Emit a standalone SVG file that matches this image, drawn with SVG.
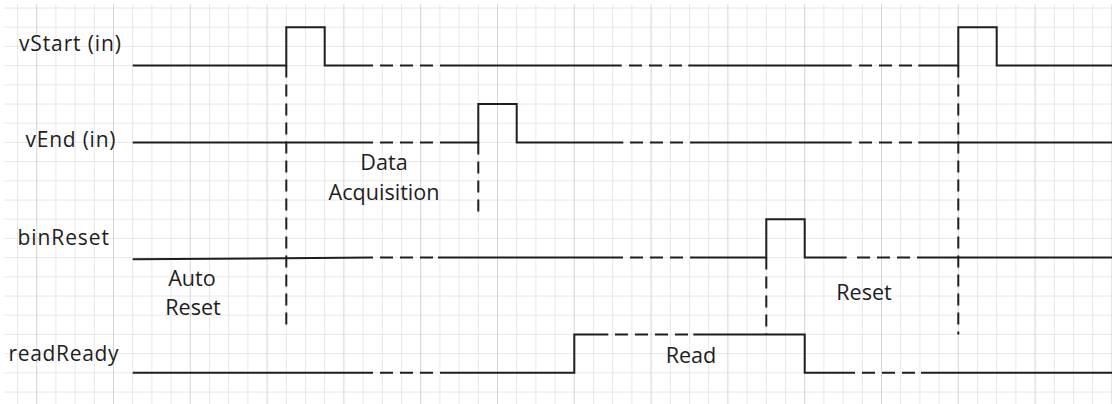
<svg xmlns="http://www.w3.org/2000/svg" width="1112" height="404" viewBox="0 0 1112 404">
<style>
.minor{stroke:#e8e8e8;stroke-width:1;fill:none}
.major{stroke:#d6d6d6;stroke-width:1;fill:none}
.sig{stroke:#1e1e1e;stroke-width:2;fill:none;stroke-linecap:butt;stroke-linejoin:miter}
.dash{stroke:#1e1e1e;stroke-width:2;fill:none;stroke-dasharray:13 7}
.vdash{stroke:#1e1e1e;stroke-width:2;fill:none;stroke-dasharray:12 7}
text{font-family:"Open Sans","Noto Sans","Liberation Sans",sans-serif;font-size:21px;fill:#1e1e1e}
.mid{text-anchor:middle;font-size:21.6px}
</style>
<rect width="1112" height="404" fill="#ffffff"/>
<g id="grid">
<path class="minor" d="M17.5,4V404M55.9,4V404M75.1,4V404M94.3,4V404M132.7,4V404M151.9,4V404M171.1,4V404M209.5,4V404M228.7,4V404M247.9,4V404M286.3,4V404M305.5,4V404M324.7,4V404M363.1,4V404M382.3,4V404M401.5,4V404M439.9,4V404M459.1,4V404M478.3,4V404M516.7,4V404M535.9,4V404M555.1,4V404M593.5,4V404M612.7,4V404M631.9,4V404M670.3,4V404M689.5,4V404M708.7,4V404M747.1,4V404M766.3,4V404M785.5,4V404M823.9,4V404M843.1,4V404M862.3,4V404M900.7,4V404M919.9,4V404M939.1,4V404M977.5,4V404M996.7,4V404M1015.9,4V404M1054.3,4V404M1073.5,4V404M1092.7,4V404"/>
<path class="minor" d="M4,8H1112M4,27.2H1112M4,46.4H1112M4,65.6H1112M4,84.8H1112M4,104H1112M4,123.2H1112M4,142.4H1112M4,161.6H1112M4,180.8H1112M4,200H1112M4,219.2H1112M4,238.4H1112M4,257.6H1112M4,276.8H1112M4,296H1112M4,315.2H1112M4,334.4H1112M4,353.6H1112M4,372.8H1112M4,392H1112"/>
<path class="major" d="M36.7,4V404M113.5,4V404M190.3,4V404M267.1,4V404M343.9,4V404M420.7,4V404M497.5,4V404M574.3,4V404M651.1,4V404M727.9,4V404M804.7,4V404M881.5,4V404M958.3,4V404M1035.1,4V404M1111.9,4V404"/>
</g>
<g id="vStart">
<text x="19" y="51" textLength="102">vStart (in)</text>
<path class="sig" d="M132.7,65.6H286.3V27.2H324.7V65.6H373"/>
<path class="dash" d="M380,65.6H440"/>
<path class="sig" d="M440,65.6H621.7"/>
<path class="dash" d="M629,65.6H688"/>
<path class="sig" d="M688.3,65.6H851.7"/>
<path class="dash" d="M859,65.6H918"/>
<path class="sig" d="M918.3,65.6H958.3V27.2H996.7V65.6H1112"/>
</g>
<g id="vEnd">
<text x="25.5" y="147" textLength="90">vEnd (in)</text>
<path class="sig" d="M132.7,142.4H373"/>
<path class="dash" d="M380,142.4H440"/>
<path class="sig" d="M440,142.4H478.3V104H516.7V142.4H623.3"/>
<path class="dash" d="M630,142.4H690"/>
<path class="sig" d="M690,142.4H851.7"/>
<path class="dash" d="M859,142.4H918"/>
<path class="sig" d="M918.3,142.4H1112"/>
</g>
<g id="binReset">
<text x="17.5" y="245" textLength="91.5">binReset</text>
<path class="sig" d="M132.7,259.2L373,257.6"/>
<path class="dash" d="M380,257.6H438"/>
<path class="sig" d="M438,257.6H623"/>
<path class="dash" d="M630,257.6H690"/>
<path class="sig" d="M690,257.6H766.3V219.2H804.7V257.6H846.7"/>
<path class="dash" d="M857,257.6H917"/>
<path class="sig" d="M917,257.6H1112"/>
</g>
<g id="readReady">
<text x="8.5" y="361" textLength="110">readReady</text>
<path class="sig" d="M132.7,372.8H373"/>
<path class="dash" d="M380,372.8H440"/>
<path class="sig" d="M440,372.8H574.3V334.4H608.3"/>
<path class="dash" d="M615,334.4H693.3"/>
<path class="sig" d="M693.3,334.4H804.7V372.8H855"/>
<path class="dash" d="M862,372.8H921"/>
<path class="sig" d="M921,372.8H1112"/>
</g>
<g id="connectors">
<path class="vdash" d="M286.3,65.6V327"/>
<path class="vdash" d="M478.3,142.4V212"/>
<path class="vdash" d="M766.3,257.6V334.4"/>
<path class="vdash" d="M958.3,65.6V334.4"/>
</g>
<g id="labels">
<text class="mid" x="384" y="170">Data</text>
<text class="mid" x="384" y="200">Acquisition</text>
<text class="mid" x="192" y="286">Auto</text>
<text class="mid" x="193" y="315">Reset</text>
<text class="mid" x="864" y="300">Reset</text>
<text class="mid" x="691" y="363">Read</text>
</g>
</svg>
